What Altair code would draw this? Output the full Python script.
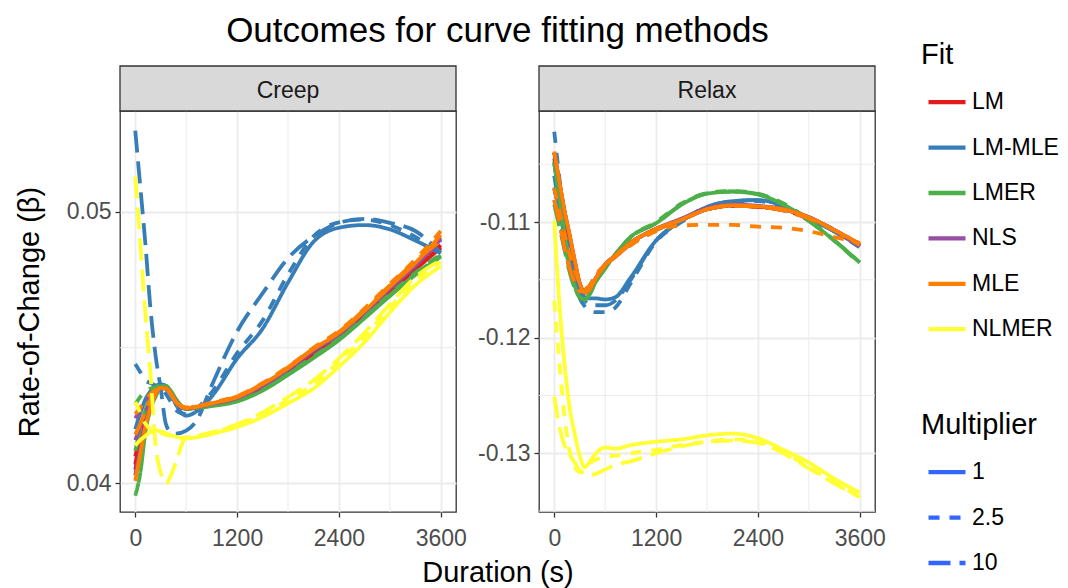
import altair as alt
import pandas as pd

# ---------------- data ----------------
T = [0, 60, 120, 180, 240, 300, 360, 420, 480, 600, 720, 900,
     1200, 1500, 1800, 2100, 2400, 2700, 3000, 3300, 3600]

FITS = ["LM", "LM-MLE", "LMER", "NLS", "MLE", "NLMER"]
FIT_COLORS = ["#E41A1C", "#377EB8", "#4DAF4A", "#984EA3", "#FF7F00", "#FFFF33"]
MULTS = ["1", "2.5", "10"]
MULT_DASHES = [[1, 0], [11, 10], [22, 9]]
PANELS = ["Creep", "Relax"]
X_TICKS = [0, 1200, 2400, 3600]
X_MINOR = [600, 1800, 3000]
CREEP_TICKS = [0.04, 0.05]
CREEP_MINOR = [0.045]
RELAX_TICKS = [-0.13, -0.12, -0.11]
RELAX_MINOR = [-0.135, -0.125, -0.115, -0.105]
TITLE = "Outcomes for curve fitting methods"

# Creep
creep_lm_1 = [0.0405, 0.0415, 0.0423, 0.0429, 0.0433, 0.04352, 0.0435, 0.0433, 0.0430, 0.04276, 0.04279, 0.04290, 0.04310, 0.04352, 0.04412, 0.04478, 0.04540, 0.04622, 0.04705, 0.04788, 0.04868]
creep_lm_25 = [0.0407, 0.0417, 0.0425, 0.0430, 0.0434, 0.04355, 0.0435, 0.0433, 0.0430, 0.04277, 0.04280, 0.04292, 0.04312, 0.04356, 0.04418, 0.04482, 0.04546, 0.04628, 0.04712, 0.04796, 0.04878]
creep_lm_10 = [0.0410, 0.0418, 0.0425, 0.0430, 0.0434, 0.04354, 0.0435, 0.0433, 0.0430, 0.04276, 0.04279, 0.04291, 0.04311, 0.04354, 0.04415, 0.04480, 0.04543, 0.04625, 0.04708, 0.04792, 0.04872]

creep_lmmle_1 = [0.0420, 0.0426, 0.0431, 0.0434, 0.0436, 0.04365, 0.0436, 0.0433, 0.0429, 0.04250, 0.04265, 0.04320, 0.04460, 0.04570, 0.04740, 0.04890, 0.04942, 0.04952, 0.04936, 0.04895, 0.04848]
creep_lmmle_25 = [0.0444, 0.0441, 0.0438, 0.0437, 0.0436, 0.0435, 0.0433, 0.0430, 0.0427, 0.04255, 0.04275, 0.04335, 0.04480, 0.04600, 0.04770, 0.04910, 0.04962, 0.04972, 0.04952, 0.04908, 0.04845]
creep_lmmle_10 = [0.0530, 0.0509, 0.0488, 0.0464, 0.0447, 0.0435, 0.0422, 0.04189, 0.04184, 0.04195, 0.04230, 0.04360, 0.04560, 0.04700, 0.04830, 0.04910, 0.04960, 0.04975, 0.04960, 0.04930, 0.04850]

creep_lmer_1 = [0.03955, 0.0404, 0.0419, 0.04275, 0.0432, 0.04355, 0.0436, 0.0434, 0.0431, 0.04275, 0.04278, 0.04285, 0.04302, 0.04342, 0.04400, 0.04462, 0.04528, 0.04608, 0.04690, 0.04768, 0.04835]
creep_lmer_25 = [0.0429, 0.0432, 0.0434, 0.0435, 0.04355, 0.0436, 0.04355, 0.0434, 0.0431, 0.04277, 0.04280, 0.04288, 0.04306, 0.04346, 0.04405, 0.04468, 0.04535, 0.04615, 0.04698, 0.04776, 0.04845]
creep_lmer_10 = [0.0412, 0.0420, 0.0427, 0.0432, 0.0435, 0.04358, 0.04355, 0.0434, 0.0431, 0.04276, 0.04279, 0.04287, 0.04304, 0.04344, 0.04402, 0.04465, 0.04531, 0.04611, 0.04694, 0.04772, 0.04840]

creep_nls_1 = [0.0403, 0.0413, 0.0422, 0.0428, 0.0433, 0.04350, 0.0435, 0.0433, 0.0430, 0.04277, 0.04281, 0.04293, 0.04315, 0.04360, 0.04420, 0.04488, 0.04550, 0.04630, 0.04718, 0.04802, 0.04900]
creep_nls_25 = [0.0424, 0.0427, 0.0430, 0.0432, 0.0434, 0.04350, 0.0435, 0.0433, 0.0430, 0.04277, 0.04281, 0.04294, 0.04316, 0.04362, 0.04422, 0.04490, 0.04552, 0.04633, 0.04720, 0.04806, 0.04905]
creep_nls_10 = [0.0416, 0.0421, 0.0426, 0.0430, 0.0433, 0.04350, 0.0435, 0.0433, 0.0430, 0.04277, 0.04281, 0.04293, 0.04315, 0.04361, 0.04421, 0.04489, 0.04551, 0.04631, 0.04719, 0.04804, 0.04895]

creep_mle_1 = [0.0401, 0.0411, 0.0421, 0.0428, 0.0433, 0.04352, 0.0435, 0.0433, 0.0430, 0.04278, 0.04282, 0.04295, 0.04318, 0.04366, 0.04425, 0.04495, 0.04555, 0.04635, 0.04725, 0.04812, 0.04915]
creep_mle_25 = [0.04256, 0.0428, 0.0431, 0.0433, 0.04345, 0.0435, 0.0435, 0.0433, 0.0430, 0.04280, 0.04284, 0.04298, 0.04322, 0.04370, 0.04430, 0.04500, 0.04562, 0.04644, 0.04735, 0.04825, 0.04930]
creep_mle_10 = [0.0418, 0.0422, 0.0427, 0.0431, 0.0434, 0.04352, 0.0435, 0.0433, 0.0430, 0.04279, 0.04283, 0.04296, 0.04320, 0.04368, 0.04428, 0.04497, 0.04558, 0.04640, 0.04730, 0.04818, 0.04895]

creep_nlmer_1 = [0.0414, 0.0416, 0.04175, 0.0419, 0.04195, 0.04192, 0.04185, 0.04178, 0.04172, 0.04166, 0.04170, 0.04182, 0.04208, 0.04245, 0.04295, 0.04350, 0.04430, 0.04520, 0.04630, 0.04730, 0.04800]
creep_nlmer_25 = [0.0430, 0.0426, 0.0422, 0.0420, 0.0419, 0.04185, 0.0418, 0.04175, 0.0417, 0.04168, 0.04172, 0.04186, 0.04215, 0.04255, 0.04308, 0.04365, 0.04448, 0.04540, 0.04648, 0.04748, 0.04815]
creep_nlmer_10 = [0.0513, 0.0488, 0.0462, 0.0440, 0.0414, 0.0404, 0.0400, 0.0403, 0.0408, 0.0417, 0.04175, 0.04188, 0.04218, 0.04262, 0.04318, 0.04380, 0.04460, 0.04555, 0.04660, 0.04760, 0.04822]

# Relax
relax_lm_1 = [-0.1040, -0.1066, -0.1091, -0.1112, -0.1134, -0.1153, -0.1161, -0.1158, -0.1150, -0.1137, -0.1129, -0.1118, -0.1106, -0.1098, -0.1089, -0.10858, -0.10868, -0.1089, -0.1096, -0.1107, -0.1119]
relax_lm_25 = [-0.1045, -0.1070, -0.1094, -0.1115, -0.1136, -0.1154, -0.1161, -0.1158, -0.1150, -0.1137, -0.1129, -0.1118, -0.1106, -0.1098, -0.1089, -0.10860, -0.10870, -0.1090, -0.1097, -0.1108, -0.1120]
relax_lm_10 = [-0.1050, -0.1074, -0.1097, -0.1117, -0.1137, -0.1154, -0.1161, -0.1158, -0.1150, -0.1137, -0.1129, -0.1118, -0.1106, -0.1098, -0.1089, -0.10859, -0.10869, -0.1089, -0.1096, -0.1107, -0.1120]

relax_lmmle_1 = [-0.1060, -0.1088, -0.1112, -0.1134, -0.1150, -0.1160, -0.1165, -0.1166, -0.1166, -0.1167, -0.1165, -0.1148, -0.1116, -0.1099, -0.1087, -0.1082, -0.1081, -0.1086, -0.1097, -0.1108, -0.1121]
relax_lmmle_25 = [-0.1022, -0.1062, -0.1100, -0.1130, -0.1152, -0.1166, -0.1173, -0.1177, -0.1178, -0.1178, -0.1174, -0.1153, -0.1117, -0.1100, -0.1088, -0.1083, -0.1082, -0.1087, -0.1097, -0.1108, -0.1122]
relax_lmmle_10 = [-0.1048, -0.1080, -0.1108, -0.1132, -0.1150, -0.1162, -0.1168, -0.1171, -0.1172, -0.1172, -0.1168, -0.1150, -0.1116, -0.1099, -0.1087, -0.1082, -0.1081, -0.1086, -0.1097, -0.1108, -0.1121]

relax_lmer_1 = [-0.1048, -0.1080, -0.1110, -0.1137, -0.1155, -0.1165, -0.1167, -0.1162, -0.1153, -0.1140, -0.1128, -0.1113, -0.1101, -0.1085, -0.10755, -0.10738, -0.10762, -0.1085, -0.1099, -0.1116, -0.1135]
relax_lmer_25 = [-0.1070, -0.1094, -0.1118, -0.1140, -0.1156, -0.1165, -0.1167, -0.1162, -0.1153, -0.1140, -0.1128, -0.1113, -0.1100, -0.1084, -0.10750, -0.10732, -0.10755, -0.1084, -0.1098, -0.1116, -0.1136]
relax_lmer_10 = [-0.1085, -0.1104, -0.1124, -0.1143, -0.1157, -0.1165, -0.1167, -0.1162, -0.1153, -0.1140, -0.1128, -0.1113, -0.1101, -0.1085, -0.10752, -0.10735, -0.10758, -0.1085, -0.1099, -0.1116, -0.1135]

relax_nls_1 = [-0.1040, -0.1065, -0.1090, -0.1111, -0.1133, -0.1153, -0.1161, -0.1158, -0.1150, -0.1137, -0.1129, -0.1118, -0.1106, -0.1097, -0.1088, -0.10850, -0.10860, -0.1089, -0.1096, -0.1107, -0.1121]
relax_nls_25 = [-0.1071, -0.1090, -0.1110, -0.1128, -0.1142, -0.1152, -0.1158, -0.1155, -0.1148, -0.1138, -0.1130, -0.1120, -0.1107, -0.1098, -0.1089, -0.10855, -0.10865, -0.1089, -0.1096, -0.1107, -0.1121]
relax_nls_10 = [-0.1081, -0.1100, -0.1122, -0.1140, -0.1152, -0.1160, -0.1160, -0.1155, -0.1147, -0.1137, -0.1130, -0.1119, -0.1107, -0.1098, -0.1089, -0.10858, -0.10868, -0.1090, -0.1097, -0.1107, -0.1121]

relax_mle_1 = [-0.1039, -0.1065, -0.1090, -0.1111, -0.1133, -0.1153, -0.1161, -0.1158, -0.1150, -0.1137, -0.1129, -0.1118, -0.1106, -0.1098, -0.1089, -0.10855, -0.10865, -0.1089, -0.1096, -0.1107, -0.1119]
relax_mle_25 = [-0.1071, -0.1090, -0.1110, -0.1128, -0.1142, -0.1152, -0.1158, -0.1155, -0.1148, -0.1138, -0.1130, -0.1120, -0.1108, -0.1103, -0.11025, -0.11025, -0.1104, -0.1105, -0.1108, -0.1113, -0.1118]
relax_mle_10 = [-0.1081, -0.1100, -0.1122, -0.1140, -0.1152, -0.1160, -0.1160, -0.1155, -0.1147, -0.1137, -0.1130, -0.1119, -0.1107, -0.1098, -0.1089, -0.1086, -0.1087, -0.1090, -0.1097, -0.1107, -0.1120]

relax_nlmer_1 = [-0.1099, -0.1170, -0.1222, -0.1260, -0.1283, -0.1302, -0.1312, -0.1307, -0.1301, -0.1295, -0.1296, -0.1293, -0.1290, -0.1288, -0.12845, -0.1283, -0.1287, -0.1297, -0.1308, -0.1322, -0.1334]
relax_nlmer_25 = [-0.1168, -0.1222, -0.1268, -0.1298, -0.1312, -0.1316, -0.1314, -0.1309, -0.1306, -0.1303, -0.1302, -0.1300, -0.1297, -0.1293, -0.1290, -0.1288, -0.1290, -0.1299, -0.1312, -0.1325, -0.1338]
relax_nlmer_10 = [-0.1251, -0.1277, -0.1293, -0.1301, -0.1308, -0.1315, -0.1318, -0.1319, -0.1318, -0.1314, -0.1310, -0.1307, -0.1300, -0.1294, -0.1290, -0.1289, -0.1291, -0.1300, -0.1313, -0.1326, -0.1338]

SERIES = [
    ("Creep", "LM", "1", creep_lm_1), ("Creep", "LM", "2.5", creep_lm_25), ("Creep", "LM", "10", creep_lm_10),
    ("Creep", "LM-MLE", "1", creep_lmmle_1), ("Creep", "LM-MLE", "2.5", creep_lmmle_25), ("Creep", "LM-MLE", "10", creep_lmmle_10),
    ("Creep", "LMER", "1", creep_lmer_1), ("Creep", "LMER", "2.5", creep_lmer_25), ("Creep", "LMER", "10", creep_lmer_10),
    ("Creep", "NLS", "1", creep_nls_1), ("Creep", "NLS", "2.5", creep_nls_25), ("Creep", "NLS", "10", creep_nls_10),
    ("Creep", "MLE", "1", creep_mle_1), ("Creep", "MLE", "2.5", creep_mle_25), ("Creep", "MLE", "10", creep_mle_10),
    ("Creep", "NLMER", "1", creep_nlmer_1), ("Creep", "NLMER", "2.5", creep_nlmer_25), ("Creep", "NLMER", "10", creep_nlmer_10),
    ("Relax", "LM", "1", relax_lm_1), ("Relax", "LM", "2.5", relax_lm_25), ("Relax", "LM", "10", relax_lm_10),
    ("Relax", "LM-MLE", "1", relax_lmmle_1), ("Relax", "LM-MLE", "2.5", relax_lmmle_25), ("Relax", "LM-MLE", "10", relax_lmmle_10),
    ("Relax", "LMER", "1", relax_lmer_1), ("Relax", "LMER", "2.5", relax_lmer_25), ("Relax", "LMER", "10", relax_lmer_10),
    ("Relax", "NLS", "1", relax_nls_1), ("Relax", "NLS", "2.5", relax_nls_25), ("Relax", "NLS", "10", relax_nls_10),
    ("Relax", "MLE", "1", relax_mle_1), ("Relax", "MLE", "2.5", relax_mle_25), ("Relax", "MLE", "10", relax_mle_10),
    ("Relax", "NLMER", "1", relax_nlmer_1), ("Relax", "NLMER", "2.5", relax_nlmer_25), ("Relax", "NLMER", "10", relax_nlmer_10),
]

rows = []
for panel, fit, mult, vals in SERIES:
    for t, v in zip(T, vals):
        rows.append({"panel": panel, "fit": fit, "mult": mult, "t": t, "v": v})
df = pd.DataFrame(rows)

# ---------------- layout / style ----------------
FONT = "Liberation Sans"
PW, PH, SH = 336, 401, 45
X_DOMAIN = [-180, 3780]
CREEP_DOMAIN = [0.03895, 0.05372]
RELAX_DOMAIN = [-0.13508, -0.1004]
LABEL_EXPR = "replace(format(datum.value, '.2f'), '\u2212', '-')"

color_scale = alt.Scale(domain=FITS, range=FIT_COLORS)
dash_scale = alt.Scale(domain=MULTS, range=MULT_DASHES)
fit_legend = alt.Legend(title="Fit", orient="none", legendX=801, legendY=-70)
mult_legend = alt.Legend(title="Multiplier", orient="none", legendX=801, legendY=300,
                         symbolStrokeColor="#3366FF")


def make_panel(name, ydomain, yticks, yminor, first):
    d = df[df.panel == name]
    xs = alt.Scale(domain=X_DOMAIN, nice=False, zero=False)
    ys = alt.Scale(domain=ydomain, nice=False, zero=False)
    if first:
        xa = alt.Axis(values=X_TICKS, format="d", title="Duration (s)", titleX=377.5)
        ya = alt.Axis(values=yticks, title="Rate-of-Change (\u03b2)", labelExpr=LABEL_EXPR)
    else:
        xa = alt.Axis(values=X_TICKS, format="d", title=None)
        ya = alt.Axis(values=yticks, title=None, labelExpr=LABEL_EXPR)
    X = alt.X("t:Q", scale=xs, axis=xa)
    Y = alt.Y("v:Q", scale=ys, axis=ya)

    layers = [
        alt.Chart(pd.DataFrame({"t": X_MINOR})).mark_rule(color="#EBEBEB", strokeWidth=1.0).encode(x=X),
        alt.Chart(pd.DataFrame({"v": yminor})).mark_rule(color="#EBEBEB", strokeWidth=1.0).encode(y=Y),
    ]
    for f in FITS:
        layers.append(
            alt.Chart(d[d.fit == f]).mark_line(strokeWidth=3.8, interpolate="monotone", clip=True).encode(
                x=X, y=Y,
                color=alt.Color("fit:N", scale=color_scale, legend=fit_legend),
                strokeDash=alt.StrokeDash("mult:N", scale=dash_scale, legend=mult_legend),
            )
        )
    strip = pd.DataFrame({"panel": [name]})
    layers.append(
        alt.Chart(strip).mark_rect(fill="#D9D9D9", stroke="#333333", strokeWidth=1.3).encode(
            x=alt.value(0), x2=alt.value(PW), y=alt.value(-SH), y2=alt.value(0))
    )
    layers.append(
        alt.Chart(strip).mark_text(font=FONT, fontSize=23, color="#1A1A1A", baseline="alphabetic",
                                   align="center").encode(text="panel:N", x=alt.value(PW / 2), y=alt.value(-13.5))
    )
    if first:
        layers.append(
            alt.Chart(pd.DataFrame({"title": [TITLE]})).mark_text(
                font=FONT, fontSize=35, color="black", baseline="alphabetic", align="center"
            ).encode(text="title:N", x=alt.value(377.5), y=alt.value(-69.5))
        )
    return alt.layer(*layers).properties(width=PW, height=PH)


creep = make_panel("Creep", CREEP_DOMAIN, CREEP_TICKS, CREEP_MINOR, True)
relax = make_panel("Relax", RELAX_DOMAIN, RELAX_TICKS, RELAX_MINOR, False)

chart = alt.hconcat(creep, relax, spacing=83, bounds="flush").properties(
    padding={"left": 14, "top": 12, "right": 5, "bottom": 5},
    background="white",
).configure(font=FONT).configure_view(
    stroke="#333333", strokeWidth=1.3
).configure_axis(
    labelFont=FONT, titleFont=FONT, labelFontSize=23, labelColor="#4D4D4D",
    titleFontSize=29, titleFontWeight="normal", titleColor="black",
    tickColor="#333333", tickWidth=1.3, tickSize=5, domain=False,
    gridColor="#EBEBEB", gridWidth=1.8,
).configure_axisX(
    labelPadding=10, titlePadding=8,
).configure_axisY(
    labelPadding=4, titlePadding=22,
).configure_legend(
    titleFont=FONT, labelFont=FONT, titleFontSize=29, titleFontWeight="normal", titleColor="black",
    labelFontSize=23, labelColor="black", symbolType="stroke", symbolSize=1369, symbolOffset=5,
    symbolStrokeWidth=4.3, rowPadding=12.4, titlePadding=11.2, labelOffset=4, padding=0,
)

chart.save("out.html", embed_options={"renderer": "svg", "actions": False})
